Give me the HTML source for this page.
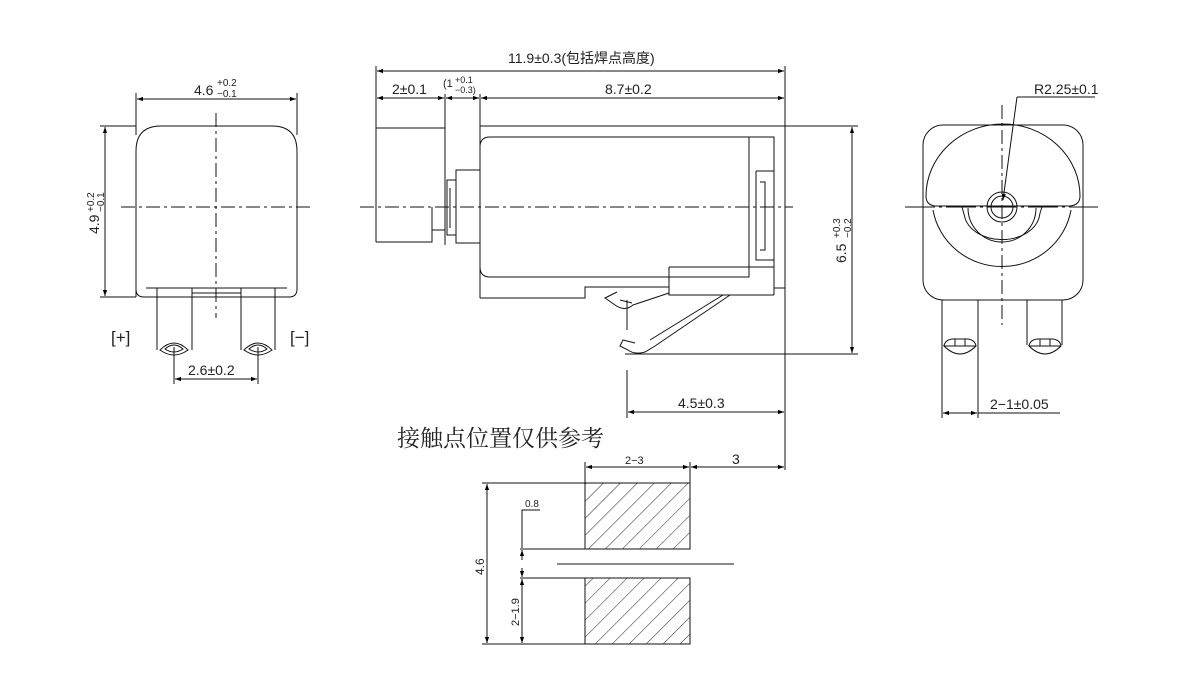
<!DOCTYPE html>
<html><head><meta charset="utf-8"><style>
html,body{margin:0;padding:0;background:#fff;}
svg{display:block;}
text{font-family:"Liberation Sans","Noto Sans CJK SC",sans-serif;fill:#222;}
</style></head><body>
<svg width="1199" height="686" viewBox="0 0 1199 686" xmlns="http://www.w3.org/2000/svg">
<defs>
<marker id="a" viewBox="0 0 10 10" refX="10" refY="5" markerWidth="12" markerHeight="6" orient="auto-start-reverse" markerUnits="userSpaceOnUse"><path d="M0,1.5 L10,5 L0,8.5 Z" fill="#000"/></marker>
<pattern id="h" width="12" height="12" patternUnits="userSpaceOnUse" patternTransform="rotate(45)"><line x1="0" y1="0" x2="0" y2="12" stroke="#222" stroke-width="1"/></pattern>
</defs>
<g fill="none" stroke="#111" stroke-width="1">
<!-- LEFT VIEW -->
<line x1="136" y1="93" x2="136" y2="135"/><line x1="297" y1="93" x2="297" y2="135"/>
<line x1="137" y1="99" x2="296" y2="99" marker-start="url(#a)" marker-end="url(#a)"/>
<path d="M136,297 L136,151 Q136,126 161,126 L272,126 Q297,126 297,151 L297,289 Q297,297 289,297 L144,297 Q136,297 136,289"/>
<line x1="100" y1="126" x2="136" y2="126"/><line x1="100" y1="297" x2="136" y2="297"/>
<line x1="105" y1="127" x2="105" y2="296" marker-start="url(#a)" marker-end="url(#a)"/>
<line x1="121" y1="207" x2="311" y2="207" stroke-dasharray="14,4,3,4"/>
<line x1="216" y1="113" x2="216" y2="318" stroke-dasharray="14,4,3,4"/>
<path d="M146,288 L287,288 M157,288 L157,350 M192,288 L192,350 M241,288 L241,350 M275,288 L275,350 M192,293 L241,293"/>
<path d="M160,350 Q174,336 188,350 Q174,360 160,350 Z M165,349 Q174,341 183,349 Q174,355 165,349 Z"/>
<path d="M244,350 Q258,336 272,350 Q258,360 244,350 Z M249,349 Q258,341 267,349 Q258,355 249,349 Z"/>
<line x1="174" y1="347" x2="174" y2="384"/><line x1="258" y1="347" x2="258" y2="384"/>
<line x1="175" y1="379" x2="257" y2="379" marker-start="url(#a)" marker-end="url(#a)"/>
<!-- MIDDLE VIEW -->
<line x1="376" y1="66" x2="376" y2="242"/><line x1="785" y1="66" x2="785" y2="470"/>
<line x1="377" y1="71" x2="784" y2="71" marker-start="url(#a)" marker-end="url(#a)"/>
<line x1="445" y1="94" x2="445" y2="245"/><line x1="480" y1="94" x2="480" y2="298"/>
<line x1="377" y1="98" x2="444" y2="98" marker-start="url(#a)" marker-end="url(#a)"/>
<line x1="446" y1="98" x2="479" y2="98" marker-start="url(#a)" marker-end="url(#a)"/>
<line x1="481" y1="98" x2="784" y2="98" marker-start="url(#a)" marker-end="url(#a)"/>
<path d="M376,128 L445,128 M376,242 L432,242 L432,207 M432,230 L445,230"/>
<line x1="480" y1="126" x2="858" y2="126"/>
<path d="M490,137 L749,137 L749,277 L490,277 Q480,277 480,267 L480,147 Q480,137 490,137"/>
<rect x="456" y="170" width="24" height="73"/>
<path d="M447,180 L456,180 L456,235 L447,235 Z M450,188 L450,228"/>
<path d="M749,137 L774,137 L774,295 M756,171 L774,171 M756,171 L756,260 L774,260 M760,182 L765,182 L765,250 L760,250"/>
<path d="M480,298 L585,298 L585,287 L669,287 M669,267 L774,267 M669,267 L669,295 L774,295 M774,288 L785,288"/>
<path d="M617,292 L605,298 L615,305 Q625,312 633,305 L669,293 M620,300 L632,303"/>
<path d="M723,295 L650,340 M730,295 L655,346 L645,352 Q635,355 628,350 L620,346 L623,340 L635,343"/>
<line x1="360" y1="207" x2="793" y2="207" stroke-dasharray="14,4,3,4"/>
<line x1="625" y1="354" x2="858" y2="354"/><line x1="627" y1="300" x2="627" y2="330"/><line x1="627" y1="370" x2="627" y2="418"/>
<line x1="852" y1="127" x2="852" y2="353" marker-start="url(#a)" marker-end="url(#a)"/>
<line x1="628" y1="412" x2="784" y2="412" marker-start="url(#a)" marker-end="url(#a)"/>
<!-- RIGHT VIEW -->
<rect x="923" y="125" width="160" height="175" rx="20"/>
<path d="M926,196 A77,72 0 0 1 1080,196 Q1080,205 1070,206 L935,206 Q926,205 926,196"/>
<path d="M933,210 A70,68 0 0 0 1071,210"/>
<path d="M962,207 Q964,214 965,218 A38,28 0 0 0 1039,218 Q1040,212 1042,207"/>
<path d="M968,208 A34,34 0 0 0 1036,208"/>
<circle cx="1002" cy="207" r="15"/><circle cx="1002" cy="207" r="11"/>
<line x1="905" y1="207" x2="1098" y2="207" stroke-dasharray="30,4,3,4"/>
<line x1="1002" y1="105" x2="1002" y2="325" stroke-dasharray="14,4,3,4"/>
<path d="M1017,97 L1095,97"/><line x1="1017" y1="97" x2="1003" y2="200" marker-end="url(#a)"/>
<path d="M942,300 L942,418 M978,300 L978,418 M1027,300 L1027,345 M1062,300 L1062,345"/>
<path d="M944,346 Q945,340 952,339 L968,339 Q975,340 976,346 L944,346 Q960,362 976,346 M955,339 L955,346 M965,339 L965,346"/>
<path d="M1029,346 Q1030,340 1037,339 L1053,339 Q1060,340 1061,346 L1029,346 Q1045,362 1061,346 M1040,339 L1040,346 M1050,339 L1050,346"/>
<line x1="943" y1="413" x2="977" y2="413" marker-start="url(#a)" marker-end="url(#a)"/>
<line x1="978" y1="413" x2="1060" y2="413"/>
<!-- BOTTOM PADS -->
<line x1="585" y1="462" x2="585" y2="483"/><line x1="690" y1="462" x2="690" y2="483"/>
<line x1="586" y1="467" x2="689" y2="467" marker-start="url(#a)" marker-end="url(#a)"/>
<line x1="691" y1="467" x2="784" y2="467" marker-start="url(#a)" marker-end="url(#a)"/>
<rect x="585" y="483" width="105" height="66" fill="url(#h)"/>
<rect x="585" y="578" width="105" height="66" fill="url(#h)"/>
<line x1="557" y1="564" x2="734" y2="564"/>
<line x1="482" y1="483" x2="585" y2="483"/><line x1="482" y1="644" x2="585" y2="644"/>
<line x1="487" y1="484" x2="487" y2="643" marker-start="url(#a)" marker-end="url(#a)"/>
<line x1="520" y1="549" x2="585" y2="549"/><line x1="520" y1="578" x2="585" y2="578"/>
<path d="M540,510 L522,510 L522,548"/>
<line x1="522" y1="560" x2="522" y2="550" marker-end="url(#a)"/>
<line x1="522" y1="568" x2="522" y2="577" marker-end="url(#a)"/>
<line x1="522" y1="579" x2="522" y2="643" marker-start="url(#a)" marker-end="url(#a)"/>
</g>
<!-- TEXT -->
<g font-size="14">
<text x="194" y="95">4.6</text><text x="217" y="86" font-size="10">+0.2</text><text x="217" y="97" font-size="10">−0.1</text>
<text transform="translate(99,234) rotate(-90)">4.9</text>
<text transform="translate(94,212) rotate(-90)" font-size="10">+0.2</text>
<text transform="translate(104,212) rotate(-90)" font-size="10">−0.1</text>
<text x="111" y="343" font-size="17">[+]</text><text x="290" y="343" font-size="17">[−]</text>
<text x="188" y="375">2.6±0.2</text>
<text x="508" y="63">11.9±0.3(包括焊点高度)</text>
<text x="392" y="94">2±0.1</text>
<text x="443" y="87" font-size="11">(1</text><text x="455" y="83" font-size="9">+0.1</text><text x="455" y="93" font-size="9">−0.3)</text>
<text x="605" y="94">8.7±0.2</text>
<text transform="translate(846,263) rotate(-90)">6.5</text>
<text transform="translate(840,238) rotate(-90)" font-size="10">+0.3</text>
<text transform="translate(851,238) rotate(-90)" font-size="10">−0.2</text>
<text x="678" y="408">4.5±0.3</text>
<text x="1034" y="94">R2.25±0.1</text>
<text x="990" y="409">2−1±0.05</text>
<text x="397" y="446" font-size="23" style="font-family:'Noto Serif CJK SC',serif">接触点位置仅供参考</text>
<text x="625" y="464" font-size="11">2−3</text>
<text x="732" y="464">3</text>
<text x="525" y="507" font-size="10">0.8</text>
<text transform="translate(484,575) rotate(-90)" font-size="12">4.6</text>
<text transform="translate(519,626) rotate(-90)" font-size="11">2−1.9</text>
</g>
</svg>
</body></html>
